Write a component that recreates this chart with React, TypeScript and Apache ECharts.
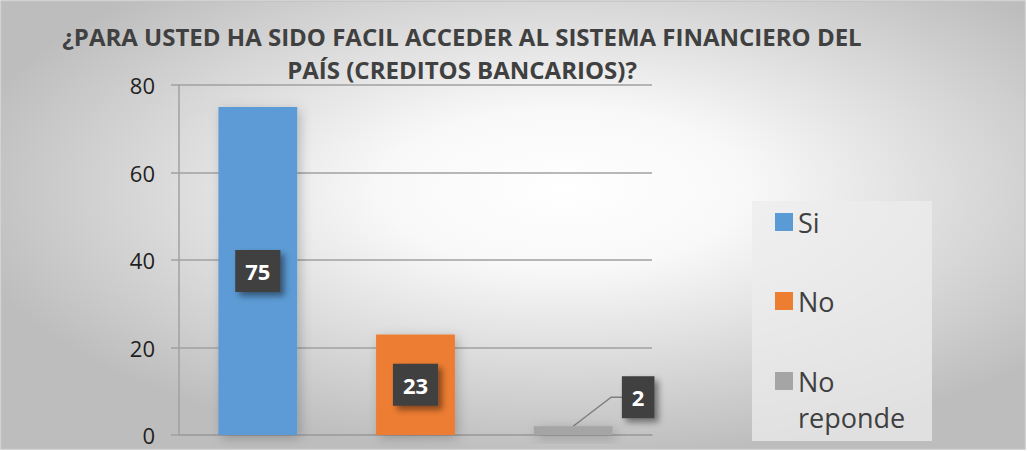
import React, { useEffect, useRef } from "react";
import * as echarts from "echarts";

const titleLines = [
  "¿PARA USTED HA SIDO FACIL ACCEDER AL SISTEMA FINANCIERO DEL",
  "PAÍS (CREDITOS BANCARIOS)?",
];
const categories = ["Si", "No", "No reponde"];
const values = [75, 23, 2];
const barColors = ["#5B9BD5", "#ED7D31", "#A5A5A5"];
const yMin = 0;
const yMax = 80;
const yInterval = 20;

const FONT = "'Open Sans', 'Noto Sans', sans-serif";

export default function App() {
  const ref = useRef<HTMLDivElement>(null);

  useEffect(() => {
    if (!ref.current) return;
    const chart = echarts.init(ref.current, undefined, { renderer: "svg" });

    const legendTops = [204, 283, 363];
    const squareIcon = "path://M0 0H18V18H0Z";
    const tallIcon = "path://M0 0H18V18H0Z M0 53.9H0.05V54H0Z";

    const calloutIndex = 2;
    const calloutDx = 65;
    const calloutDy = -29;

    const series: any[] = categories.map((name, i) => ({
      name,
      type: "bar",
      stack: "total",
      barCategoryGap: "50%",
      data: values.map((v, j) => (j === i ? v : "-")),
      itemStyle: {
        color: barColors[i],
        shadowBlur: 12,
        shadowColor: "rgba(0,0,0,0.22)",
        shadowOffsetX: 3,
        shadowOffsetY: 3,
      },
      label: {
        show: true,
        position: "inside",
        color: "#ffffff",
        fontFamily: FONT,
        fontWeight: "bold",
        fontSize: 22,
        lineHeight: 30,
        padding: [6, 10],
        backgroundColor: "#3f3f3f",
        shadowBlur: 6,
        shadowColor: "rgba(0,0,0,0.45)",
        shadowOffsetX: 4,
        shadowOffsetY: 4,
      },
      ...(i === calloutIndex
        ? {
            labelLayout: (p: any) => {
              const cx = p.rect.x + p.rect.width / 2;
              const top = p.rect.y;
              return {
                x: cx + calloutDx,
                y: top + calloutDy,
                align: "center",
                verticalAlign: "middle",
              };
            },
          }
        : {}),
    }));

    // leader line for the small bar's callout label, positioned from the axis scales
    series.push({
      type: "custom",
      name: "leader",
      silent: true,
      z: 1,
      data: [[calloutIndex, values[calloutIndex]]],
      renderItem: (_params: any, api: any) => {
        const p = api.coord([api.value(0), api.value(1)]);
        return {
          type: "polyline",
          shape: {
            points: [
              [p[0], p[1]],
              [p[0] + 38, p[1] + calloutDy],
              [p[0] + 52, p[1] + calloutDy],
            ],
          },
          style: { stroke: "#808080", lineWidth: 1.5, fill: null },
        };
      },
    });

    const option: any = {
      animation: false,
      graphic: [
        {
          type: "rect",
          z: -10,
          silent: true,
          shape: { x: 1, y: 1, width: 1024, height: 448 },
          style: {
            fill: {
              type: "radial",
              x: 0.55,
              y: 0.42,
              r: 0.6,
              colorStops: [
                { offset: 0, color: "#ffffff" },
                { offset: 0.3, color: "#f8f8f8" },
                { offset: 1, color: "#bdbdbd" },
              ],
            },
            stroke: "#c4c4c4",
            lineWidth: 1.5,
          },
        },
        {
          type: "rect",
          z: -5,
          silent: true,
          shape: { x: 752, y: 201, width: 180, height: 240 },
          style: { fill: "rgba(236,236,236,0.75)" },
        },
        {
          type: "text",
          z: 5,
          silent: true,
          x: 462,
          y: 20,
          style: {
            text: titleLines.join("\n"),
            fontFamily: FONT,
            fontWeight: "bold",
            fontSize: 24,
            lineHeight: 33,
            fill: "#404040",
            align: "center",
            verticalAlign: "top",
          },
        },
      ],
      grid: { left: 179, right: 375, top: 85, bottom: 16, containLabel: false },
      xAxis: {
        type: "category",
        data: categories,
        axisLine: { show: true, lineStyle: { color: "#a0a0a0", width: 1.5 } },
        axisTick: { show: false },
        axisLabel: { show: false },
      },
      yAxis: {
        type: "value",
        min: yMin,
        max: yMax,
        interval: yInterval,
        axisLine: { show: true, lineStyle: { color: "#a0a0a0", width: 1.5 } },
        axisTick: { show: true, length: 8, lineStyle: { color: "#a0a0a0", width: 1.5 } },
        axisLabel: {
          color: "#1f1f1f",
          fontFamily: FONT,
          fontSize: 22,
          margin: 24,
        },
        splitLine: { show: true, lineStyle: { color: "#a0a0a0", width: 1.5 } },
      },
      legend: categories.map((name, i) => ({
        data: [{ name, icon: i === 2 ? tallIcon : squareIcon }],
        orient: "vertical",
        left: 775,
        top: legendTops[i],
        padding: 0,
        itemGap: 0,
        itemWidth: 18,
        itemHeight: i === 2 ? 54 : 18,
        selectedMode: false,
        formatter: (n: string) => n.replace(" ", "\n"),
        textStyle: {
          fontFamily: FONT,
          fontSize: 27,
          lineHeight: 36,
          color: "#404040",
        },
      })),
      series,
    };

    chart.setOption(option);
    return () => chart.dispose();
  }, []);

  return (
    <div
      ref={ref}
      style={{ position: "absolute", left: 0, top: 0, width: 1027, height: 451 }}
    />
  );
}
